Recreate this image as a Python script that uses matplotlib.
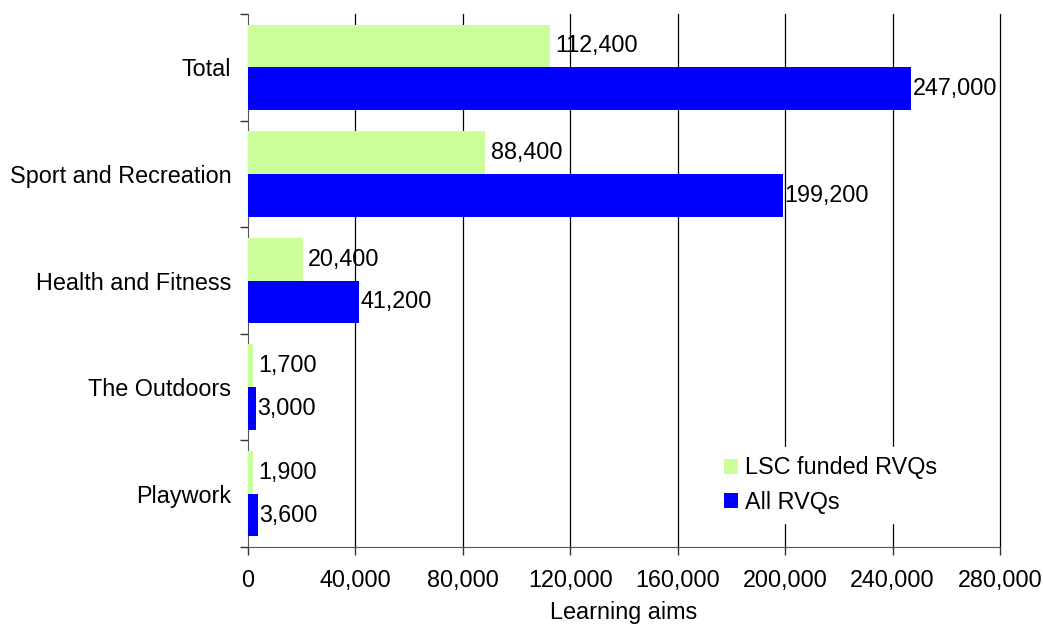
import matplotlib
matplotlib.use("Agg")
import matplotlib.pyplot as plt
import numpy as np

plt.rcParams['font.family'] = ['Liberation Sans', 'DejaVu Sans']

categories = ["Total", "Sport and Recreation", "Health and Fitness", "The Outdoors", "Playwork"]
lsc_funded = [112400, 88400, 20400, 1700, 1900]
all_rvqs = [247000, 199200, 41200, 3000, 3600]
xticks = [0, 40000, 80000, 120000, 160000, 200000, 240000, 280000]

green = "#ccff99"
blue = "#0000ff"
fs = 16.8

fig = plt.figure(figsize=(10.43, 6.26), dpi=100)
ax = fig.add_axes([248/1043, 1-547/626, (1000-248)/1043, (547-14)/626])

n = len(categories)
y = np.arange(n)[::-1].astype(float)  # Total at top
h = 0.4
b1 = ax.barh(y + h/2, lsc_funded, height=h, color=green, label="LSC funded RVQs", zorder=3)
b2 = ax.barh(y - h/2, all_rvqs, height=h, color=blue, label="All RVQs", zorder=3)

for rect, v in zip(b1, lsc_funded):
    ax.annotate(f"{v:,}", (rect.get_width(), rect.get_y() + rect.get_height()/2),
                xytext=(4, 0), textcoords="offset points", va="center", ha="left", fontsize=fs)
for rect, v in zip(b2, all_rvqs):
    ax.annotate(f"{v:,}", (rect.get_width(), rect.get_y() + rect.get_height()/2),
                xytext=(1, 0), textcoords="offset points", va="center", ha="left", fontsize=fs)

ax.set_xlim(0, 280000)
ax.set_ylim(-0.5, n - 0.5)
ax.set_xticks(xticks)
ax.set_xticklabels([f"{t:,}" for t in xticks], fontsize=fs)
ax.set_yticks(y)
ax.set_yticklabels(categories, fontsize=fs)
ax.tick_params(axis='y', length=0, pad=12)
ax.set_yticks(np.arange(-0.5, n, 1.0), minor=True)
ax.tick_params(axis='y', which='minor', length=6, width=1, direction='out', color='#333333')
ax.tick_params(axis='x', length=6, width=1, direction='out', pad=10, color='#333333')

for t in xticks[1:]:
    ax.axvline(t, color='black', linewidth=0.9, zorder=0, clip_on=False)
for s in ['top', 'right']:
    ax.spines[s].set_visible(False)
ax.spines['left'].set_color('#555555')
ax.spines['bottom'].set_color('#555555')

ax.set_xlabel("Learning aims", fontsize=fs, labelpad=6)

leg = ax.legend(loc='upper left', bbox_to_anchor=(715/1043, 1-447/626), bbox_transform=fig.transFigure,
                frameon=True, fontsize=fs, handlelength=0.6, handleheight=0.6, handletextpad=0.3,
                labelspacing=0.5, borderpad=0.4, borderaxespad=0)
leg.get_frame().set_edgecolor('white')
leg.get_frame().set_facecolor('white')
leg.get_frame().set_alpha(1)
leg.set_zorder(5)

fig.savefig("out.png", dpi=100)
